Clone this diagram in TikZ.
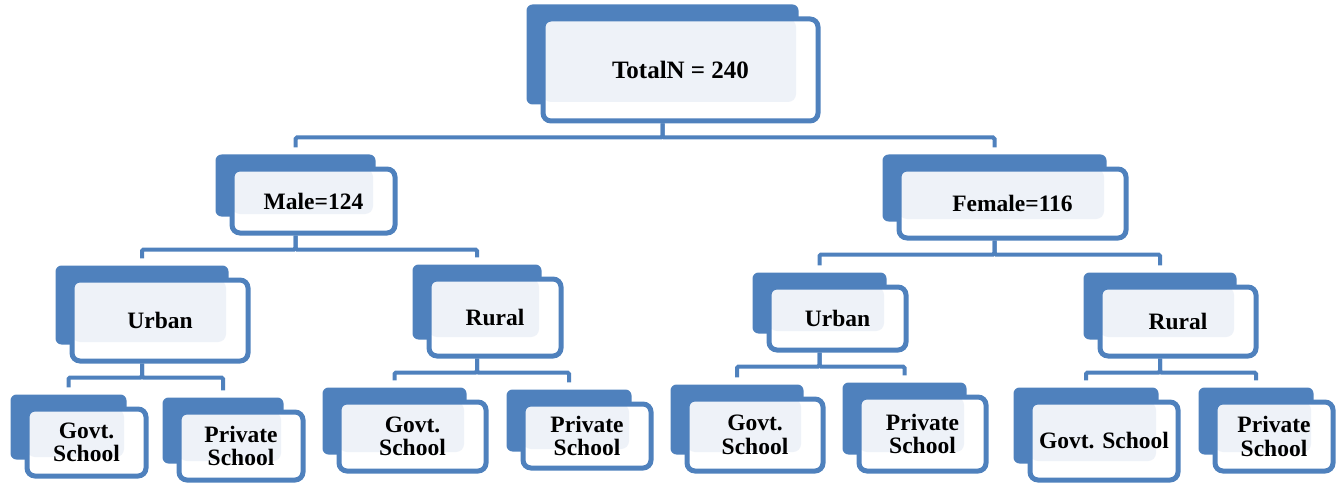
\documentclass[tikz,border=0pt]{standalone}
\usepackage{fontspec}
\setmainfont{Liberation Serif}
\usepackage{tikz}
\usetikzlibrary{positioning,fit,backgrounds,calc}
\definecolor{smartblue}{HTML}{4F81BD}
\definecolor{smartpale}{HTML}{EEF2F8}

\begin{document}
\begin{tikzpicture}[
        x=1pt, y=1pt,
        catbox/.style={draw=smartblue, line width=5pt, fill=white, rounded corners=8pt,
            inner sep=0pt, align=center, font=\fontsize{23.5}{23.5}\selectfont\bfseries,
            path picture={\fill[smartpale] (path picture bounding box.north west)
                rectangle ($(path picture bounding box.south east)+(-22,19)$);}},
        backbox/.style={fill=smartblue, rounded corners=6pt, inner sep=0pt},
        link/.style={draw=smartblue, line width=4pt, rounded corners=1.5pt, shorten >=7pt}
    ]
        \useasboundingbox (0,0) rectangle (1339,483);
        % front boxes: name/x/y/width/height/label
        \foreach \n/\cx/\cy/\w/\h/\lbl in {%
            total/680.5/413/275/102/{\fontsize{25}{27}\selectfont TotalN = 240},
            male/313.5/282/163/64/{Male=124},
            female/1012.5/279.5/227/69/{Female=116},
            urbanL/160/162.5/176/81/{Urban},
            ruralL/495/165.5/132/77/{Rural},
            urbanR/837.5/164.5/137/63/{Urban},
            ruralR/1178/161.5/156/69/{Rural},
            govtLL/86.5/40.5/119/67/{Govt.\\School},
            privLL/241/37/124/68/{Private\\School},
            govtLR/412.5/46.5/147/69/{Govt.\\School},
            privLR/587/47/128/64/{Private\\School},
            govtRL/755/48/136/72/{Govt.\\School},
            privRL/922.5/49/127/74/{Private\\School},
            govtRR/1104/42/148/78/{Govt. School},
            privRR/1274/46.5/118/69/{Private\\School}%
        }{
            \node[catbox, minimum width=\w pt, minimum height=\h pt] (\n) at (\cx,\cy) {\lbl};
        }
        % shifted blue plates behind the boxes
        \begin{scope}[on background layer]
            \foreach \n in {total,male,female,urbanL,ruralL,urbanR,ruralR,
                govtLL,privLL,govtLR,privLR,govtRL,privRL,govtRR,privRR}
                \node[backbox, fit={($(\n.north west)+(-14,12)$) ($(\n.south east)+(-22,19)$)}] (\n-bk) {};
        \end{scope}
        % tree connectors
        \foreach \p/\c in {total/male, total/female, male/urbanL, male/ruralL,
            female/urbanR, female/ruralR, urbanL/govtLL, urbanL/privLL,
            ruralL/govtLR, ruralL/privLR, urbanR/govtRL, urbanR/privRL,
            ruralR/govtRR, ruralR/privRR}
            \draw[link] (\p-bk.center |- \p.south) -- ++(0,-14) -| (\c-bk.north);
    \end{tikzpicture}
\end{document}
